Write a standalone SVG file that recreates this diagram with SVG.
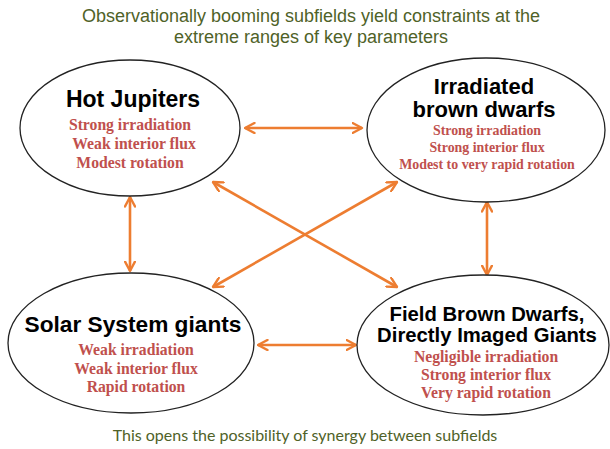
<svg xmlns="http://www.w3.org/2000/svg" width="610" height="449" viewBox="0 0 610 449">
<defs>
<marker id="ah" viewBox="0 0 12 12" refX="10.5" refY="6" markerWidth="12" markerHeight="12" markerUnits="userSpaceOnUse" orient="auto-start-reverse">
<path d="M1,1 L10.5,6 L1,11" fill="none" stroke="#ED7D31" stroke-width="2.4" stroke-linecap="round" stroke-linejoin="round"/>
</marker>
<style>
.ell{fill:#fff;stroke:#222;stroke-width:1.3}
.hd{font-family:"Liberation Sans",Arial,sans-serif;font-weight:bold;font-size:22px;fill:#000;text-anchor:middle}
.rd{font-family:"Liberation Serif","Times New Roman",serif;font-weight:bold;font-size:15.7px;fill:#C0504D;text-anchor:middle}
.rs{font-size:13.9px}
.ttl{font-family:"Liberation Sans",Arial,sans-serif;font-size:18px;fill:#4F6228;text-anchor:middle}
.ft{font-family:Lato,"Open Sans",sans-serif;font-size:16px;fill:#4F6228;text-anchor:middle}
.ar{stroke:#ED7D31;stroke-width:2.6;fill:none;marker-start:url(#ah);marker-end:url(#ah)}
</style>
</defs>
<rect width="610" height="449" fill="#fff"/>
<text class="ttl" x="311" y="22">Observationally booming subfields yield constraints at the</text>
<text class="ttl" x="311" y="43">extreme ranges of key parameters</text>
<g id="connectors">
<line class="ar" x1="245" y1="128" x2="362" y2="128"/>
<line class="ar" x1="130" y1="197" x2="130" y2="271"/>
<line class="ar" x1="487" y1="202" x2="487" y2="275"/>
<line class="ar" x1="258" y1="345" x2="356" y2="345"/>
<line class="ar" x1="213" y1="182" x2="397" y2="287"/>
<line class="ar" x1="397" y1="182" x2="213" y2="287"/>
</g>
<g id="hot-jupiters">
<ellipse class="ell" cx="130" cy="128" rx="110" ry="68"/>
<text class="hd" x="133" y="107" style="font-size:23px">Hot Jupiters</text>
<text class="rd" x="130" y="130">Strong irradiation</text>
<text class="rd" x="134" y="149">Weak interior flux</text>
<text class="rd" x="130" y="168">Modest rotation</text>
</g>
<g id="irradiated-brown-dwarfs">
<ellipse class="ell" cx="486" cy="130" rx="119" ry="72"/>
<text class="hd" x="484" y="94">Irradiated</text>
<text class="hd" x="484" y="117">brown dwarfs</text>
<text class="rd rs" x="487" y="135">Strong irradiation</text>
<text class="rd rs" x="487" y="152">Strong interior flux</text>
<text class="rd rs" x="487" y="169">Modest to very rapid rotation</text>
</g>
<g id="solar-system-giants">
<ellipse class="ell" cx="131" cy="343" rx="123" ry="70"/>
<text class="hd" x="133" y="332" style="font-size:22.7px">Solar System giants</text>
<text class="rd" x="136" y="355">Weak irradiation</text>
<text class="rd" x="136" y="374">Weak interior flux</text>
<text class="rd" x="136" y="392">Rapid rotation</text>
</g>
<g id="field-brown-dwarfs">
<ellipse class="ell" cx="483" cy="345" rx="126" ry="70"/>
<text class="hd" x="487" y="321" style="font-size:20.3px">Field Brown Dwarfs,</text>
<text class="hd" x="487" y="342" style="font-size:20.3px">Directly Imaged Giants</text>
<text class="rd" x="486" y="362">Negligible irradiation</text>
<text class="rd" x="486" y="380">Strong interior flux</text>
<text class="rd" x="486" y="398">Very rapid rotation</text>
</g>
<text class="ft" x="305" y="441">This opens the possibility of synergy between subfields</text>
</svg>
